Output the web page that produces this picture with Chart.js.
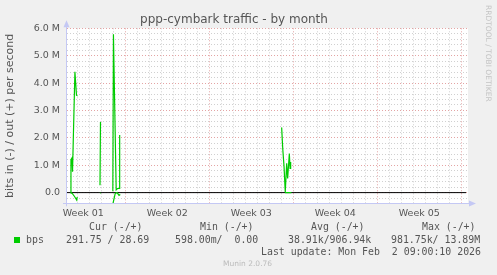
<!DOCTYPE html>
<html>
<head>
<meta charset="utf-8">
<script src="https://cdn.jsdelivr.net/npm/chart.js@4/dist/chart.umd.min.js"></script>
<style>
  body { margin: 0; background: #f0f0f0; }
  #wrap { position: relative; width: 497px; height: 275px; overflow: hidden; }
  #myChart { position: absolute; left: 0; top: 0; }
  .lg { position: absolute; white-space: pre; font-family: 'DejaVu Sans Mono', monospace; font-size: 9.9px; line-height: 12px; color: #555; }
  #sq { position: absolute; left: 14px; top: 237px; width: 6px; height: 6px; background: #00cc00; }
  #munin { position: absolute; left: 223px; top: 259px; font-family: 'DejaVu Sans', sans-serif; font-size: 7.5px; line-height: 10px; color: #bbb; white-space: pre; }
  #rrd { position: absolute; left: 483px; top: 5px; writing-mode: vertical-rl; font-family: 'DejaVu Sans', sans-serif; font-size: 7.5px; line-height: 10px; color: #c4c4c4; white-space: pre; }
</style>
</head>
<body>
<div id="wrap">
  <canvas id="myChart" width="497" height="275"></canvas>
  <div id="rrd">RRDTOOL / TOBI OETIKER</div>
  <div class="lg" style="left:89px;top:221px">Cur (-/+)</div>
  <div class="lg" style="left:200px;top:221px">Min (-/+)</div>
  <div class="lg" style="left:311px;top:221px">Avg (-/+)</div>
  <div class="lg" style="left:422px;top:221px">Max (-/+)</div>
  <div id="sq"></div>
  <div class="lg" style="left:26px;top:234px">bps</div>
  <div class="lg" style="left:66px;top:234px">291.75 / 28.69</div>
  <div class="lg" style="left:175px;top:234px">598.00m/  0.00</div>
  <div class="lg" style="left:288px;top:234px">38.91k/906.94k</div>
  <div class="lg" style="left:391px;top:234px">981.75k/ 13.89M</div>
  <div class="lg" style="left:261px;top:246px">Last update: Mon Feb  2 09:00:10 2026</div>
  <div id="munin">Munin 2.0.76</div>
</div>
<script>
// x in days counted from Mon 29 Dec 2025 00:00 (start of Week 01)
const weekLabels = ['Week 01', 'Week 02', 'Week 03', 'Week 04', 'Week 05'];
const xMin = 2.14;
const xMax = 35.56;
const lastUpdateDay = 35.40;

// out (+) in Mbit/s, null = no data
const outDays = [2.44, 2.47, 2.55, 2.60, 2.80, 2.93, 2.96, 3.10, 4.89, 4.93, 5.30, 5.96, 6.01, 6.24, 6.35, 6.49, 6.53, 7.00, 20.03, 20.12, 20.23, 20.33, 20.45, 20.53, 20.67, 20.73, 20.78];
const outMbps = [0.00, 1.20, 1.26, 0.76, 4.41, 3.56, 3.55, null, 0.27, 2.58, null, 0.05, 5.78, 0.10, 0.15, 0.15, 2.10, null, 2.38, 1.61, 0.94, 0.02, 1.07, 0.52, 1.43, 0.88, 1.12];

// in (-) in Mbit/s, drawn below zero
const inDays = [2.44, 2.58, 2.78, 2.95, 2.99, 3.10, 4.89, 4.93, 5.30, 5.97, 6.16, 6.31, 6.48, 6.58, 7.00, 20.30, 20.84];
const inMbps = [0.00, 0.03, 0.15, 0.27, 0.16, null, 0.02, 0.01, null, 0.40, 0.03, 0.00, 0.10, 0.07, null, 0.00, 0.00];

const yMin = -0.39;
const yMax = 6.0;
const yLabelValues = [0, 1, 2, 3, 4, 5, 6];

const green = '#00cc00';
const majorGrid = '#e4a4a4';
const minorGrid = '#d0d0d0';
const axisBlue = '#c4c8f4';

const outPoints = outDays.map((d, i) => ({x: d, y: outMbps[i]}));
const inPoints = inDays.map((d, i) => ({x: d, y: inMbps[i] === null ? null : -inMbps[i]}));
const zeroPoints = [{x: xMin, y: 0}, {x: lastUpdateDay, y: 0}];

const plotBack = {
    id: 'plotBack',
    beforeDraw(chart) {
        const {ctx, chartArea: a} = chart;
        ctx.save();
        ctx.fillStyle = '#ffffff';
        ctx.fillRect(a.left, a.top, a.width, a.height);
        ctx.restore();
    },
    afterDraw(chart) {
        // rrdtool style axes with arrows
        const {ctx, chartArea: a} = chart;
        ctx.save();
        ctx.strokeStyle = axisBlue;
        ctx.fillStyle = axisBlue;
        ctx.lineWidth = 1;
        const yb = Math.round(a.bottom) + 0.5;
        const xl = Math.round(a.left) - 0.5;
        ctx.beginPath();
        ctx.moveTo(a.left - 4, yb);
        ctx.lineTo(a.right + 2, yb);
        ctx.moveTo(xl, a.bottom + 3);
        ctx.lineTo(xl, a.top - 2);
        ctx.stroke();
        ctx.beginPath();
        ctx.moveTo(a.right + 1, yb - 3);
        ctx.lineTo(a.right + 8, yb);
        ctx.lineTo(a.right + 1, yb + 3);
        ctx.fill();
        ctx.beginPath();
        ctx.moveTo(xl - 3, a.top - 1);
        ctx.lineTo(xl, a.top - 8);
        ctx.lineTo(xl + 3, a.top - 1);
        ctx.fill();
        ctx.restore();
    }
};

const ctx = document.getElementById('myChart');

const chartConfig = {
    type: 'line',
    data: {
        datasets: [{
            label: 'out',
            data: outPoints,
            borderColor: green,
            borderWidth: 1.2,
            pointRadius: 0,
            spanGaps: false,
        }, {
            label: 'in',
            data: inPoints,
            borderColor: green,
            borderWidth: 1.2,
            pointRadius: 0,
            spanGaps: false,
        }, {
            label: 'zero',
            data: zeroPoints,
            borderColor: '#000000',
            borderWidth: 1,
            pointRadius: 0,
        }],
    },
    options: {
        responsive: false,
        animation: false,
        devicePixelRatio: 1,
        layout: {padding: {left: 0, right: 29, top: 0, bottom: 51.7}},
        plugins: {
            legend: {display: false},
            tooltip: {enabled: false},
            title: {
                display: true,
                text: 'ppp-cymbark traffic - by month',
                color: '#555',
                font: {family: 'DejaVu Sans', size: 12, weight: 'normal'},
                padding: {top: 12.5, bottom: 1.4},
            },
        },
        scales: {
            x: {
                type: 'linear',
                min: xMin,
                max: xMax,
                afterBuildTicks: (s) => {
                    const t = [];
                    for (let d = Math.ceil(xMin); d <= xMax; d++) t.push({value: d});
                    weekLabels.forEach((w, i) => t.push({value: i * 7 + 3.5}));
                    t.sort((a, b) => a.value - b.value);
                    s.ticks = t;
                },
                afterFit: (s) => { s.height = 20; },
                ticks: {
                    autoSkip: false,
                    maxRotation: 0,
                    padding: 5,
                    color: '#555',
                    font: {family: 'DejaVu Sans', size: 9.5},
                    callback: (v) => {
                        const k = (v - 3.5) / 7;
                        return Number.isInteger(k) ? weekLabels[k] : '';
                    },
                },
                grid: {
                    drawTicks: false,
                    color: (c) => {
                        const v = c.tick.value;
                        if (!Number.isInteger(v)) return 'rgba(0,0,0,0)';
                        return v % 7 === 0 ? majorGrid : minorGrid;
                    },
                },
                border: {display: false, dash: [1, 2]},
            },
            y: {
                min: yMin,
                max: yMax,
                afterBuildTicks: (s) => {
                    const t = [];
                    for (let i = Math.ceil(yMin * 5); i <= yMax * 5; i++) t.push({value: i / 5});
                    s.ticks = t;
                },
                afterFit: (s) => { s.width = 67; },
                ticks: {
                    autoSkip: false,
                    padding: 7,
                    color: '#555',
                    font: {family: 'DejaVu Sans', size: 9.5},
                    callback: (v) => {
                        if (!yLabelValues.includes(v)) return '';
                        return v === 0 ? '0.0' : v.toFixed(1) + ' M';
                    },
                },
                grid: {
                    drawTicks: false,
                    color: (c) => Number.isInteger(c.tick.value) ? majorGrid : minorGrid,
                },
                border: {display: false, dash: [1, 2]},
                title: {
                    display: true,
                    text: 'bits in (-) / out (+) per second',
                    color: '#555',
                    font: {family: 'DejaVu Sans', size: 11},
                    padding: {top: 4, bottom: 0},
                },
            },
        },
    },
    plugins: [plotBack],
};
new Chart(ctx, chartConfig);
</script>
</body>
</html>
